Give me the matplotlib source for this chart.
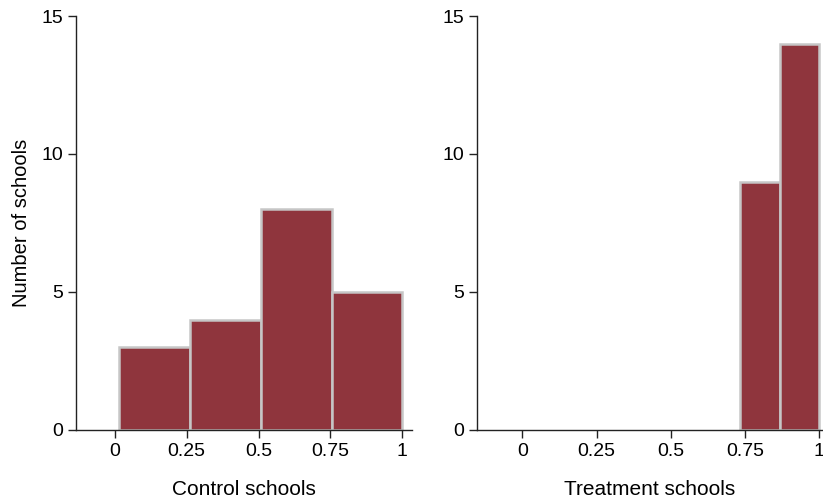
import matplotlib.pyplot as plt

plt.rcParams['font.family'] = ['Liberation Sans', 'DejaVu Sans']

# histogram bins (left edges) and counts
control_edges = [0.015, 0.261, 0.507, 0.754, 1.0]
control_counts = [3, 4, 8, 5]
treat_edges = [0.735, 0.867, 1.0]
treat_counts = [9, 14]

x_ticks = [0, 0.25, 0.5, 0.75, 1]
x_ticklabels = ['0', '0.25', '0.5', '0.75', '1']
y_ticks = [0, 5, 10, 15]

bar_color = '#8f353d'
edge_color = '#c6c6c6'

fig = plt.figure(figsize=(8.23, 5.0), dpi=100)
ax1 = fig.add_axes([0.0923, 0.14, 0.4085, 0.828])
ax2 = fig.add_axes([0.579, 0.14, 0.4215, 0.828])


def draw_hist(ax, edges, counts, xlim, xlabel):
    widths = [edges[i + 1] - edges[i] for i in range(len(counts))]
    ax.bar(edges[:-1], counts, width=widths, align='edge',
           color=bar_color, edgecolor=edge_color, linewidth=1.8, zorder=2)
    ax.set_xlim(*xlim)
    ax.set_ylim(0, 15)
    ax.set_xticks(x_ticks)
    ax.set_xticklabels(x_ticklabels)
    ax.set_yticks(y_ticks)
    ax.set_xlabel(xlabel, fontsize=15, labelpad=15)
    for s in ['top', 'right']:
        ax.spines[s].set_visible(False)
    for s in ['left', 'bottom']:
        ax.spines[s].set_color('#222222')
        ax.spines[s].set_linewidth(1.0)
    ax.tick_params(axis='both', labelsize=14, length=6, width=1.0,
                   color='#222222', pad=3)
    ax.spines['bottom'].set_zorder(3)


draw_hist(ax1, control_edges, control_counts, (-0.135, 1.034), 'Control schools')
draw_hist(ax2, treat_edges, treat_counts, (-0.155, 1.015), 'Treatment schools')
ax1.set_ylabel('Number of schools', fontsize=14.5, labelpad=8)

fig.savefig('out.png', dpi=100)
